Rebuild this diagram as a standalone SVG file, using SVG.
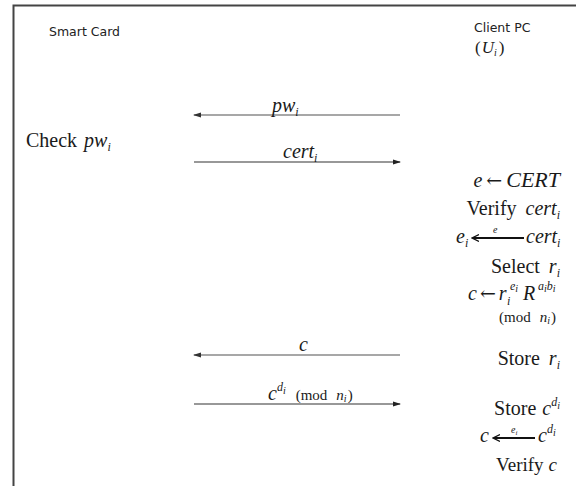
<svg xmlns="http://www.w3.org/2000/svg" width="576" height="486" viewBox="0 0 576 486">
<style>
.m{font-family:"Liberation Serif","Times New Roman",serif;font-size:20px;fill:#1a1a1a}
.i{font-style:italic}
.s{font-size:12px}
.t{font-size:10px}
.md{font-size:15px}
.ar{font-family:"DejaVu Serif",serif;font-style:normal;font-size:19px}
.lbl{font-family:"DejaVu Sans","Liberation Sans",sans-serif;font-size:12.5px;fill:#222}
.g{stroke:#8a8a8a;stroke-width:1.3;fill:none}
.d{stroke:#333;stroke-width:1.2;fill:none}
.k{stroke:#111;stroke-width:2;fill:none}
</style>
<defs>
<marker id="hg" markerWidth="8" markerHeight="6" refX="7" refY="3" orient="auto" markerUnits="userSpaceOnUse"><path d="M0,0.5 L8,3 L0,5.5 z" fill="#333"/></marker>
<marker id="hd" markerWidth="8" markerHeight="6" refX="7" refY="3" orient="auto" markerUnits="userSpaceOnUse"><path d="M0,0.5 L8,3 L0,5.5 z" fill="#222"/></marker>
<marker id="hk" markerWidth="8" markerHeight="8" refX="6" refY="4" orient="auto" markerUnits="userSpaceOnUse"><path d="M0,0.5 L7,4 L0,7.5" fill="none" stroke="#111" stroke-width="1.2"/></marker>
</defs>
<path d="M13.5,486 V5.5 H576" fill="none" stroke="#444" stroke-width="2"/>
<g id="smart-card">
<text class="lbl" x="49" y="36">Smart Card</text>
<text class="m" x="26" y="147">Check<tspan class="i" dx="7">pw</tspan><tspan class="i s" dy="4">i</tspan></text>
</g>
<g id="client-pc">
<text class="lbl" x="474" y="32">Client PC</text>
<text class="m" x="475" y="53" font-size="17" style="font-size:17px">(<tspan class="i" dx="1">U</tspan><tspan class="i t" dy="3">i</tspan><tspan dy="-3" dx="2">)</tspan></text>
</g>
<g id="connectors">
<path class="g" d="M400,115 H194" marker-end="url(#hg)"/>
<path class="d" d="M194,162 H400" marker-end="url(#hd)"/>
<path class="g" d="M400,355 H194" marker-end="url(#hg)"/>
<path class="d" d="M194,404 H400" marker-end="url(#hd)"/>
<text class="m i" x="272" y="112">pw<tspan class="s" dy="4">i</tspan></text>
<text class="m i" x="283" y="158">cert<tspan class="s" dy="4">i</tspan></text>
<text class="m i" x="299" y="351">c</text>
<text class="m" x="268" y="400"><tspan class="i">c</tspan><tspan class="i s" dy="-9">d</tspan><tspan class="i t" dy="3">i</tspan><tspan class="md" dy="6" dx="10">(mod</tspan><tspan class="i md" dx="9">n</tspan><tspan class="i t" dy="2">i</tspan><tspan class="md" dy="-2" dx="1">)</tspan></text>
</g>
<g id="client-steps">
<text class="m" x="560" y="187" text-anchor="end"><tspan class="i">e</tspan><tspan class="ar" dx="4">←</tspan><tspan class="i" dx="4" style="font-size:22px">CERT</tspan></text>
<text class="m" x="560" y="215" text-anchor="end">Verify<tspan class="i" dx="9">cert</tspan><tspan class="i s" dy="4">i</tspan></text>
<text class="m i" x="456" y="243">e<tspan class="s" dy="4">i</tspan></text>
<path class="k" d="M524,238 H473" marker-end="url(#hk)"/>
<text class="m i t" x="493" y="233">e</text>
<text class="m i" x="526" y="243">cert<tspan class="s" dy="4">i</tspan></text>
<text class="m" x="560" y="273" text-anchor="end">Select<tspan class="i" dx="9">r</tspan><tspan class="i s" dy="4">i</tspan></text>
<text class="m" x="468" y="300"><tspan class="i">c</tspan><tspan class="ar" dx="3">←</tspan><tspan class="i" dx="3">r</tspan></text>
<text class="m i s" x="507" y="305">i</text>
<text class="m i s" x="510" y="290">e<tspan class="t" dy="2">i</tspan></text>
<text class="m i" x="523" y="300">R</text>
<text class="m i s" x="538" y="290">a<tspan class="t" dy="2">i</tspan><tspan dy="-2">b</tspan><tspan class="t" dy="2">i</tspan></text>
<text class="m md" x="499" y="322">(mod<tspan class="i" dx="9">n</tspan><tspan class="i t" dy="2">i</tspan><tspan dy="-2" dx="1">)</tspan></text>
<text class="m" x="560" y="365" text-anchor="end">Store<tspan class="i" dx="9">r</tspan><tspan class="i s" dy="4">i</tspan></text>
<text class="m" x="560" y="415" text-anchor="end">Store<tspan class="i" dx="6">c</tspan><tspan class="i s" dy="-9">d</tspan><tspan class="i t" dy="3">i</tspan></text>
<text class="m i" x="480" y="442">c</text>
<path class="k" d="M535,438 H494" marker-end="url(#hk)"/>
<text class="m i t" x="511" y="433">e<tspan dy="2" font-size="7">i</tspan></text>
<text class="m i" x="538" y="442">c<tspan class="s" dy="-9">d</tspan><tspan class="t" dy="3">i</tspan></text>
<text class="m" x="557" y="471" text-anchor="end" style="font-size:19px">Verify<tspan class="i" dx="5">c</tspan></text>
</g>
</svg>
